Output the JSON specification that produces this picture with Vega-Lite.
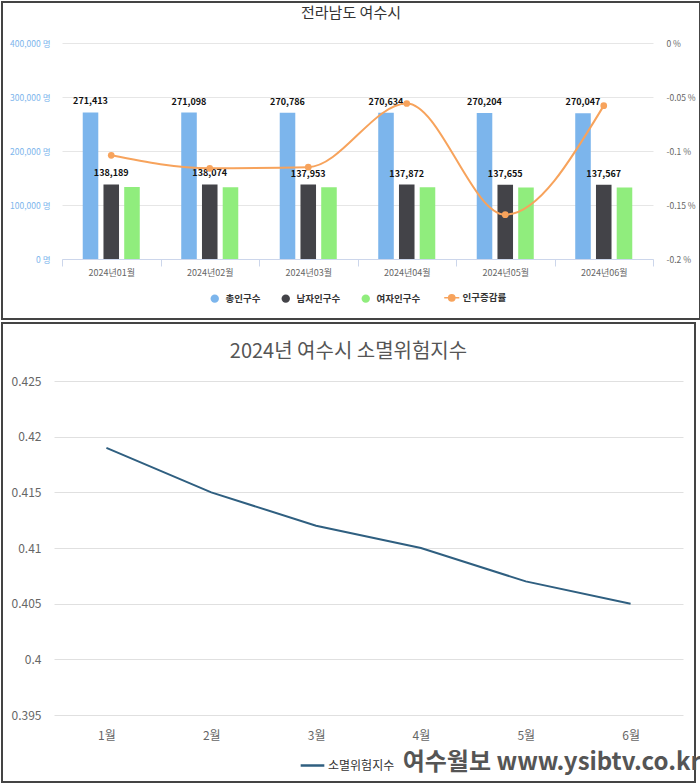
{
  "$schema": "https://vega.github.io/schema/vega-lite/v6.json",
  "padding": {"left": 1, "top": 1, "right": 1, "bottom": 1},
  "spacing": 2,
  "config": {
    "font": "Noto Sans CJK KR",
    "view": {"stroke": "#444", "strokeWidth": 2},
    "axis": {"gridColor": "#e6e6e6", "labelFont": "Noto Sans CJK KR"},
    "legend": {"labelFont": "Noto Sans CJK KR"}
  },
  "title": {
    "text": "여수월보 www.ysibtv.co.kr",
    "orient": "bottom",
    "anchor": "end",
    "offset": -32,
    "fontSize": 24,
    "fontWeight": "bold",
    "color": "#555"
  },
  "resolve": {"scale": {"color": "independent"}, "legend": {"color": "independent"}},
  "datasets": {
    "bars": [
      {"month": "2024년01월", "series": "총인구수", "value": 271413},
      {"month": "2024년01월", "series": "남자인구수", "value": 138189},
      {"month": "2024년01월", "series": "여자인구수", "value": 133224},
      {"month": "2024년02월", "series": "총인구수", "value": 271098},
      {"month": "2024년02월", "series": "남자인구수", "value": 138074},
      {"month": "2024년02월", "series": "여자인구수", "value": 133024},
      {"month": "2024년03월", "series": "총인구수", "value": 270786},
      {"month": "2024년03월", "series": "남자인구수", "value": 137953},
      {"month": "2024년03월", "series": "여자인구수", "value": 132833},
      {"month": "2024년04월", "series": "총인구수", "value": 270634},
      {"month": "2024년04월", "series": "남자인구수", "value": 137872},
      {"month": "2024년04월", "series": "여자인구수", "value": 132762},
      {"month": "2024년05월", "series": "총인구수", "value": 270204},
      {"month": "2024년05월", "series": "남자인구수", "value": 137655},
      {"month": "2024년05월", "series": "여자인구수", "value": 132549},
      {"month": "2024년06월", "series": "총인구수", "value": 270047},
      {"month": "2024년06월", "series": "남자인구수", "value": 137567},
      {"month": "2024년06월", "series": "여자인구수", "value": 132480}
    ],
    "rate": [
      {"month": "2024년01월", "series": "인구증감률", "rate": -0.104},
      {"month": "2024년02월", "series": "인구증감률", "rate": -0.116},
      {"month": "2024년03월", "series": "인구증감률", "rate": -0.115},
      {"month": "2024년04월", "series": "인구증감률", "rate": -0.056},
      {"month": "2024년05월", "series": "인구증감률", "rate": -0.159},
      {"month": "2024년06월", "series": "인구증감률", "rate": -0.058}
    ],
    "risk": [
      {"month": "1월", "series": "소멸위험지수", "idx": 0.419},
      {"month": "2월", "series": "소멸위험지수", "idx": 0.415},
      {"month": "3월", "series": "소멸위험지수", "idx": 0.412},
      {"month": "4월", "series": "소멸위험지수", "idx": 0.41},
      {"month": "5월", "series": "소멸위험지수", "idx": 0.407},
      {"month": "6월", "series": "소멸위험지수", "idx": 0.405}
    ]
  },
  "vconcat": [
    {
      "width": 698,
      "height": 317,
      "title": {"text": "전라남도 여수시", "fontSize": 15, "fontWeight": "normal", "color": "#333", "offset": -19, "anchor": "middle"},
      "layer": [
        {
          "data": {"name": "bars"},
          "layer": [
            {
              "mark": {"type": "bar"},
              "encoding": {
                "x": {
                  "field": "month", "type": "nominal", "sort": null,
                  "scale": {"range": [60, 651], "paddingInner": 0, "paddingOuter": 0},
                  "axis": {"orient": "bottom", "offset": -60, "tickBand": "extent", "domain": true, "ticks": true, "domainColor": "#ccd6eb", "tickColor": "#ccd6eb", "tickSize": 7, "labelPadding": 2, "labelFontSize": 9, "labelColor": "#666", "labelAngle": 0, "grid": false, "title": null}
                },
                "xOffset": {"field": "series", "type": "nominal", "sort": null, "scale": {"domain": ["총인구수", "남자인구수", "여자인구수"], "paddingInner": 0.25, "paddingOuter": 1.0875}},
                "y": {
                  "field": "value", "type": "quantitative",
                  "scale": {"domain": [0, 400000], "range": [257, 41], "nice": false},
                  "axis": {"orient": "left", "offset": -60, "values": [0, 100000, 200000, 300000, 400000], "labelExpr": "format(datum.value, ',') + ' 명'", "domain": false, "ticks": false, "tickSize": 0, "labelPadding": 12, "labelFontSize": 8.5, "labelColor": "#7cb5ec", "grid": true, "gridColor": "#e6e6e6", "title": null}
                },
                "color": {
                  "field": "series", "type": "nominal",
                  "scale": {"domain": ["총인구수", "남자인구수", "여자인구수", "인구증감률"], "range": ["#7cb5ec", "#434348", "#90ed7d", "#f7a35c"]},
                  "legend": {
                    "orient": "none", "legendX": 208, "legendY": 291, "direction": "horizontal", "title": null,
                    "symbolType": "circle", "symbolSize": 70, "labelFontSize": 9.5, "labelFontWeight": "bold", "labelColor": "#333", "columnPadding": 20, "labelOffset": 6,
                    "encode": {"symbols": {"update": {
                      "shape": {"signal": "datum.value === '인구증감률' ? 'M-1.8,0L1.8,0M0.75,0A0.75,0.75,0,1,1,-0.75,0A0.75,0.75,0,1,1,0.75,0Z' : 'circle'"},
                      "fill": {"scale": "color", "field": "value"},
                      "stroke": {"scale": "color", "field": "value"},
                      "strokeWidth": {"signal": "datum.value === '인구증감률' ? 1.5 : 0"},
                      "opacity": {"value": 1}
                    }}}
                  }
                }
              }
            },
            {
              "transform": [{"filter": "datum.series !== '여자인구수'"}],
              "mark": {"type": "text", "dy": -11, "fontSize": 9, "fontWeight": "bold", "color": "#111"},
              "encoding": {
                "x": {"field": "month", "type": "nominal", "sort": null},
                "xOffset": {"field": "series", "type": "nominal", "sort": null},
                "y": {"field": "value", "type": "quantitative"},
                "text": {"field": "value", "type": "quantitative", "format": ","}
              }
            }
          ]
        },
        {
          "data": {"name": "rate"},
          "layer": [
            {
              "mark": {"type": "line", "interpolate": "monotone", "strokeWidth": 2},
              "encoding": {
                "x": {"field": "month", "type": "nominal", "sort": null},
                "y": {
                  "field": "rate", "type": "quantitative",
                  "scale": {"domain": [-0.2, 0], "range": [257, 41], "nice": false, "zero": false},
                  "axis": {"orient": "right", "offset": -47, "values": [0, -0.05, -0.1, -0.15, -0.2], "labelExpr": "datum.value + ' %'", "grid": false, "domain": false, "ticks": false, "tickSize": 0, "labelPadding": 13, "labelFontSize": 8.5, "labelColor": "#666", "title": null}
                },
                "color": {"field": "series", "type": "nominal"}
              }
            },
            {
              "mark": {"type": "point", "filled": true, "size": 45, "opacity": 1},
              "encoding": {
                "x": {"field": "month", "type": "nominal", "sort": null},
                "y": {"field": "rate", "type": "quantitative"},
                "color": {"field": "series", "type": "nominal"}
              }
            }
          ]
        }
      ],
      "resolve": {"scale": {"y": "independent"}}
    },
    {
      "width": 693,
      "height": 459,
      "title": {"text": "2024년 여수시 소멸위험지수", "fontSize": 20, "fontWeight": "normal", "color": "#555", "offset": -39, "anchor": "middle"},
      "data": {"name": "risk"},
      "mark": {"type": "line", "interpolate": "linear", "strokeWidth": 2},
      "encoding": {
        "x": {
          "field": "month", "type": "ordinal", "sort": null,
          "scale": {"type": "point", "range": [52, 681], "padding": 0.5},
          "axis": {"orient": "bottom", "offset": -67, "domain": false, "ticks": false, "tickSize": 0, "labelPadding": 15, "labelFontSize": 12, "labelColor": "#666", "labelAngle": 0, "grid": false, "title": null}
        },
        "y": {
          "field": "idx", "type": "quantitative",
          "scale": {"domain": [0.395, 0.425], "range": [392, 58], "nice": false, "zero": false},
          "axis": {"values": [0.395, 0.4, 0.405, 0.41, 0.415, 0.42, 0.425], "labelExpr": "'' + datum.value", "offset": -42, "domain": false, "ticks": false, "tickSize": 0, "labelPadding": 3, "labelFontSize": 12, "labelColor": "#666", "grid": true, "gridColor": "#e0e0e0", "title": null}
        },
        "color": {
          "field": "series", "type": "nominal",
          "scale": {"domain": ["소멸위험지수"], "range": ["#2f5f80"]},
          "legend": {"orient": "none", "legendX": 297, "legendY": 429, "title": null, "symbolType": "stroke", "symbolSize": 560, "symbolStrokeWidth": 2.5, "labelFontSize": 12, "labelColor": "#333", "labelOffset": 2}
        }
      }
    }
  ]
}
